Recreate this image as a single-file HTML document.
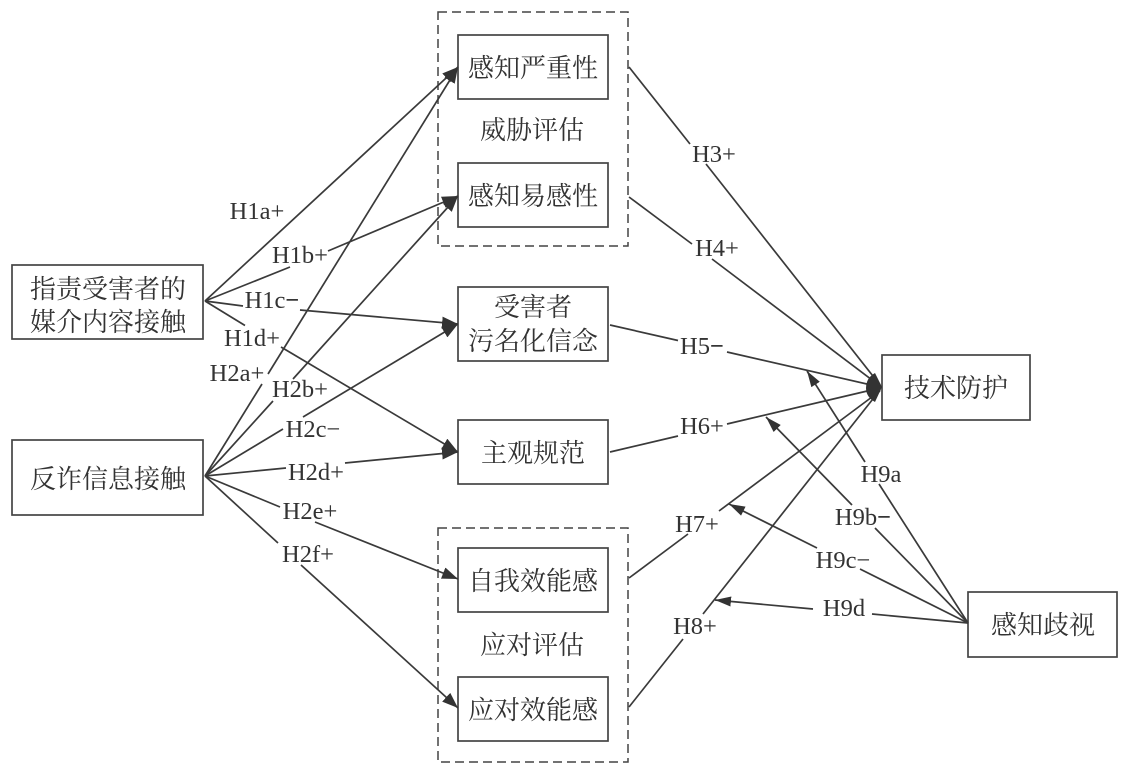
<!DOCTYPE html>
<html><head><meta charset="utf-8"><style>
html,body{margin:0;padding:0;background:#fff;width:1122px;height:768px;overflow:hidden}
svg{display:block}
.z{font-family:"Noto Serif CJK SC","Liberation Serif",serif;font-size:26px;fill:#333;text-anchor:middle}
.l{font-family:"Liberation Serif",serif;font-size:24.5px;fill:#333;text-anchor:middle}
.b{font-weight:bold}
rect{fill:#fff;stroke:#444;stroke-width:1.7}
.d{fill:none;stroke:#444;stroke-width:1.5;stroke-dasharray:9 5}
line{stroke:#3a3a3a;stroke-width:1.7}
.a{marker-end:url(#h)}
.c{marker-end:url(#s)}
</style></head><body>
<svg width="1122" height="768" viewBox="0 0 1122 768" xmlns="http://www.w3.org/2000/svg">
<defs>
<marker id="h" markerUnits="userSpaceOnUse" markerWidth="18" markerHeight="14" refX="16" refY="6" orient="auto"><path d="M0,0 L16,6 L0,12 Z" fill="#333"/></marker>
<marker id="s" markerUnits="userSpaceOnUse" markerWidth="18" markerHeight="14" refX="16" refY="5" orient="auto"><path d="M0,0 L16,5 L0,10 Z" fill="#333"/></marker>
</defs>
<rect class="d" x="438" y="12" width="190" height="234"/>
<rect class="d" x="438" y="528" width="190" height="234"/>
<rect x="12" y="265" width="191" height="74"/>
<rect x="12" y="440" width="191" height="75"/>
<rect x="458" y="35" width="150" height="64"/>
<rect x="458" y="163" width="150" height="64"/>
<rect x="458" y="287" width="150" height="74"/>
<rect x="458" y="420" width="150" height="64"/>
<rect x="458" y="548" width="150" height="64"/>
<rect x="458" y="677" width="150" height="64"/>
<rect x="882" y="355" width="148" height="65"/>
<rect x="968" y="592" width="149" height="65"/>

<line class="a" x1="205" y1="301" x2="458" y2="67"/>
<line x1="205" y1="301" x2="290" y2="267"/><line class="a" x1="328" y1="251" x2="458" y2="196"/>
<line x1="205" y1="301" x2="243" y2="306"/><line class="a" x1="300" y1="310" x2="458" y2="324"/>
<line x1="205" y1="301" x2="245" y2="325.5"/><line class="a" x1="281" y1="347" x2="458" y2="452"/>
<line x1="205" y1="476" x2="262" y2="384"/><line class="a" x1="268" y1="374" x2="458" y2="67"/>
<line x1="205" y1="476" x2="273" y2="401"/><line class="a" x1="293" y1="379" x2="458" y2="196"/>
<line x1="205" y1="476" x2="283" y2="429"/><line class="a" x1="303" y1="417" x2="458" y2="324"/>
<line x1="205" y1="476" x2="286" y2="468"/><line class="a" x1="345" y1="463" x2="458" y2="452"/>
<line x1="205" y1="476" x2="280" y2="507"/><line class="a" x1="315" y1="522" x2="458" y2="579"/>
<line x1="205" y1="476" x2="278" y2="543"/><line class="a" x1="301" y1="565" x2="458" y2="708"/>
<line x1="629" y1="67" x2="690" y2="144"/><line x1="706" y1="164" x2="880" y2="385"/>
<line x1="629" y1="197" x2="692" y2="244"/><line x1="712" y1="259" x2="880" y2="386"/>
<line x1="610" y1="325" x2="678" y2="340.5"/><line x1="727" y1="352" x2="880" y2="387"/>
<line x1="610" y1="452" x2="678" y2="436"/><line x1="727" y1="424" x2="880" y2="388"/>
<line x1="629" y1="578" x2="688" y2="534"/><line x1="719" y1="511" x2="880" y2="391"/>
<line x1="629" y1="707" x2="683" y2="639"/><line x1="703" y1="614" x2="880" y2="390"/>
<line x1="968" y1="623" x2="879" y2="484"/><line class="c" x1="865" y1="462" x2="807" y2="371"/>
<line x1="968" y1="623" x2="875" y2="528"/><line class="c" x1="852" y1="505" x2="766" y2="417"/>
<line x1="968" y1="623" x2="860" y2="569"/><line class="c" x1="817" y1="548" x2="729" y2="504"/>
<line x1="968" y1="623" x2="872" y2="614"/><line class="c" x1="813" y1="609" x2="715" y2="600"/>
<path d="M882,387 L875,373 Q866,378 866,388 Q866,397 875,402 Z" fill="#333"/>

<text class="z" x="108" y="298">指责受害者的</text>
<text class="z" x="108" y="331">媒介内容接触</text>
<text class="z" x="108" y="488">反诈信息接触</text>
<text class="z" x="533" y="77">感知严重性</text>
<text class="z" x="532" y="139">威胁评估</text>
<text class="z" x="533" y="205">感知易感性</text>
<text class="z" x="533" y="316">受害者</text>
<text class="z" x="533" y="350">污名化信念</text>
<text class="z" x="533" y="462">主观规范</text>
<text class="z" x="533" y="590">自我效能感</text>
<text class="z" x="532" y="654">应对评估</text>
<text class="z" x="533" y="719">应对效能感</text>
<text class="z" x="956" y="397">技术防护</text>
<text class="z" x="1043" y="634">感知歧视</text>

<text class="l" x="257" y="219">H1a+</text>
<text class="l" x="300" y="263">H1b+</text>
<text class="l" x="272" y="308">H1c<tspan class="b">−</tspan></text>
<text class="l" x="252" y="346">H1d+</text>
<text class="l" x="237" y="381">H2a+</text>
<text class="l" x="300" y="397">H2b+</text>
<text class="l" x="313" y="437">H2c−</text>
<text class="l" x="316" y="480">H2d+</text>
<text class="l" x="310" y="519">H2e+</text>
<text class="l" x="308" y="562">H2f+</text>
<text class="l" x="714" y="162">H3+</text>
<text class="l" x="717" y="256">H4+</text>
<text class="l" x="702" y="354">H5<tspan class="b">−</tspan></text>
<text class="l" x="702" y="434">H6+</text>
<text class="l" x="697" y="532">H7+</text>
<text class="l" x="695" y="634">H8+</text>
<text class="l" x="881" y="482">H9a</text>
<text class="l" x="863" y="525">H9b<tspan class="b">−</tspan></text>
<text class="l" x="843" y="568">H9c−</text>
<text class="l" x="844" y="616">H9d</text>
</svg>
</body></html>
